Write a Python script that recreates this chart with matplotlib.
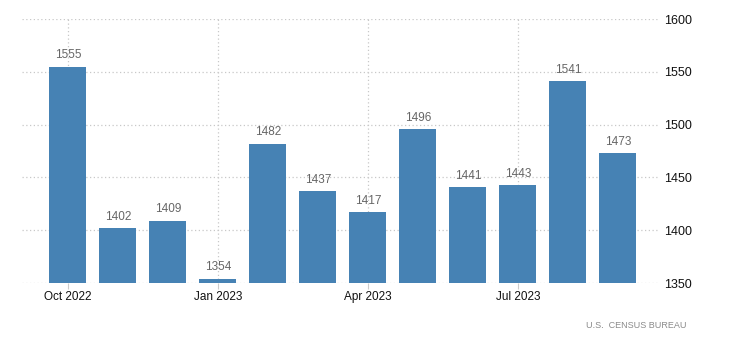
import matplotlib.pyplot as plt
import numpy as np

plt.rcParams['font.family'] = ['Liberation Sans', 'DejaVu Sans']

# Data
months = ['Oct 2022', 'Nov 2022', 'Dec 2022', 'Jan 2023', 'Feb 2023', 'Mar 2023',
          'Apr 2023', 'May 2023', 'Jun 2023', 'Jul 2023', 'Aug 2023', 'Sep 2023']
values = [1555, 1402, 1409, 1354, 1482, 1437, 1417, 1496, 1441, 1443, 1541, 1473]
tick_months = ['Oct 2022', 'Jan 2023', 'Apr 2023', 'Jul 2023']
y_ticks = [1350, 1400, 1450, 1500, 1550, 1600]

x = np.arange(len(months))

fig = plt.figure(figsize=(7.3, 3.51), dpi=100)
ax = fig.add_axes([22 / 730, (351 - 283) / 351, (660 - 22) / 730, (283 - 19) / 351])

ax.bar(x - 0.02, values, width=0.74, color='#4682b4', zorder=2)

# value labels above bars
for xi, v in zip(x, values):
    ax.text(xi, v + 5, str(v), ha='center', va='bottom', fontsize=8.5, color='#666666')

ax.set_xlim(-0.92, 11.84)
ax.set_ylim(1350, 1600)

ax.set_xticks([months.index(m) for m in tick_months])
ax.set_xticklabels(tick_months)
ax.set_yticks(y_ticks)

ax.yaxis.tick_right()
ax.tick_params(axis='y', length=0, pad=3, labelsize=9, labelcolor='#111111')
ax.tick_params(axis='x', length=4, color='#cccccc', pad=2, labelsize=8.5, labelcolor='#111111')

ax.grid(True, linestyle=(0, (1, 2)), color='#c8c8c8', linewidth=0.9, zorder=0)
for s in ax.spines.values():
    s.set_visible(False)

fig.text(686 / 730, 1 - 325 / 351, 'U.S.  CENSUS BUREAU', ha='right', va='center',
         fontsize=6.5, color='#8a8a8a')

fig.savefig('out.png', dpi=100)
